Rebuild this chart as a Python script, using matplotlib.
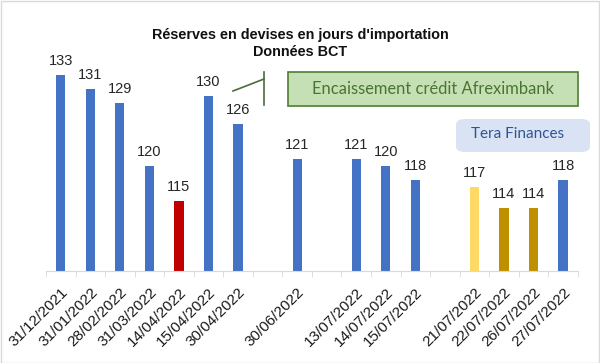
import numpy as np
import matplotlib
matplotlib.use("Agg")
from matplotlib import pyplot as plt
from matplotlib.patches import FancyBboxPatch, Rectangle
from matplotlib.lines import Line2D

# data ("" / nan = empty slot on the axis)
dates = ["31/12/2021", "31/01/2022", "28/02/2022", "31/03/2022", "14/04/2022",
         "15/04/2022", "30/04/2022", "", "30/06/2022", "", "13/07/2022",
         "14/07/2022", "15/07/2022", "", "21/07/2022", "22/07/2022",
         "26/07/2022", "27/07/2022"]
days = [133, 131, 129, 120, 115, 130, 126, np.nan, 121, np.nan, 121, 120,
        118, np.nan, 117, 114, 114, 118]
bar_colors = ["#4472C4"] * 4 + ["#C00000"] + ["#4472C4"] * 9 + \
             ["#FFD966", "#BF9000", "#BF9000", "#4472C4"]

plt.rcParams["font.family"] = ["Liberation Sans", "DejaVu Sans"]

fig = plt.figure(figsize=(6, 3.63), dpi=100)
fig.set_facecolor("white")
ax = fig.add_axes([0.0767, 0.2534, 0.8863, 0.675])

x = np.arange(len(dates))
ax.bar(x, days, width=0.31, color=bar_colors)

# value labels
for xi, v in zip(x, days):
    if np.isnan(v):
        continue
    ax.annotate(f"{v:.0f}", (xi, v), xytext=(0, 5), textcoords="offset points",
                ha="center", va="bottom", fontsize=10.5, color="#262626")

ax.set_xlim(-0.5, len(dates) - 0.5)
ax.set_ylim(105, 140)

for s in ["left", "right", "top"]:
    ax.spines[s].set_visible(False)
ax.spines["bottom"].set_color("#d9d9d9")
ax.set_yticks([])

# labels under bars, tick marks between slots
ax.set_xticks(x)
ax.set_xticklabels(dates, rotation=45, ha="right", rotation_mode="anchor",
                   fontsize=11, color="#1a1a1a")
ax.tick_params(axis="x", which="major", length=0, pad=10)
ax.set_xticks(np.arange(-0.5, len(dates)), minor=True)
ax.tick_params(axis="x", which="minor", length=4, color="#d9d9d9")

# title
fig.text(0.5, 1 - 43.5 / 363, "Réserves en devises en jours d'importation\nDonnées BCT",
         ha="center", va="center", fontsize=10.4, fontweight="bold",
         color="#111111", linespacing=1.2)

# green note + bracket line
fig.patches.append(Rectangle((288 / 600, 1 - 106 / 363), 290 / 600, 34 / 363,
                             transform=fig.transFigure, facecolor="#C5E0B4",
                             edgecolor="#507E32", linewidth=1.2))
fig.text(433 / 600, 1 - 89 / 363, "Encaissement crédit Afreximbank",
         ha="center", va="center", fontsize=11.9, color="#4A7431",
         family=["Lato", "DejaVu Sans"])
fig.lines.append(Line2D([233 / 600, 264 / 600], [1 - 91 / 363, 1 - 79 / 363],
                        transform=fig.transFigure, color="#4E6B3A", lw=1.2))
fig.lines.append(Line2D([264 / 600, 264 / 600], [1 - 72 / 363, 1 - 105 / 363],
                        transform=fig.transFigure, color="#4E6B3A", lw=1.2))

# tag
fig.patches.append(FancyBboxPatch((456 / 600, 1 - 152 / 363), 134 / 600, 33 / 363,
                                  boxstyle="round,pad=0,rounding_size=0.015",
                                  transform=fig.transFigure, facecolor="#DAE3F3",
                                  edgecolor="none"))
fig.text(518 / 600, 1 - 134 / 363, "Tera Finances", ha="center", va="center",
         fontsize=11, color="#2F5597", family=["Lato", "DejaVu Sans"])

# frame round the picture
fig.patches.append(Rectangle((0.001, 0.001), 0.998, 0.997, transform=fig.transFigure,
                             fill=False, edgecolor="#d9d9d9", linewidth=1))

fig.savefig("out.png", dpi=100)
